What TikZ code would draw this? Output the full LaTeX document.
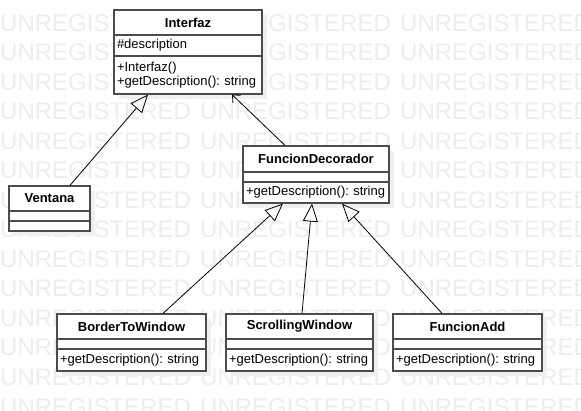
\documentclass[tikz,border=0pt]{standalone}
\usepackage{fontspec}
\setmainfont{Liberation Sans}
\usetikzlibrary{arrows.meta,shadows}

\tikzset{
	part/.style={rectangle, draw=black!70, line width=1.2pt, fill=white, inner ysep=0pt,
		drop shadow={shadow xshift=5pt, shadow yshift=-5pt, fill=black!6, opacity=1},
		font=\fontsize{13}{14}\selectfont\frenchspacing},
	classname/.style={part, font=\fontsize{13}{14}\selectfont\bfseries},
	members/.style={part, align=left, inner xsep=3pt},
	wm/.style={text=black!7, font=\fontsize{24}{24}\selectfont, anchor=base west, inner sep=0pt},
	gen/.style={-{Triangle[open, length=18pt, width=15pt]}, line width=0.8pt},
	assoc/.style={-{Straight Barb[length=6pt, width=11pt]}, line width=0.8pt}
}

\begin{document}
\begin{tikzpicture}[x=1pt, y=-1pt]
	\useasboundingbox (0,0) rectangle (581,411);
	% watermark
	\foreach \row in {0,...,13}{
		\foreach \col in {0,1,2}{
			\node[wm](wm\row\col) at (200*\col, 31.5+29.5*\row){UNREGISTERED};
		}
	}
	% Interfaz
	\node[classname, minimum width=148pt, minimum height=25pt](iName) at (188,22.5){Interfaz};
	\node[members, text width=142pt, minimum height=21pt](iAttr) at (188,45.5){\#description};
	\node[members, text width=142pt, minimum height=38pt](iMeth) at (188,75){+Interfaz()\\+getDescription(): string};
	% Ventana
	\node[classname, minimum width=81pt, minimum height=25pt](vName) at (49.5,198.5){Ventana};
	\node[members, text width=75pt, minimum height=10pt](vAttr) at (49.5,216){};
	\node[members, text width=75pt, minimum height=10pt](vMeth) at (49.5,226){};
	% FuncionDecorador
	\node[classname, minimum width=146pt, minimum height=26pt](dName) at (316,159){FuncionDecorador};
	\node[members, text width=140pt, minimum height=10pt](dAttr) at (316,177){};
	\node[members, text width=140pt, minimum height=21pt](dMeth) at (316,192.5){+getDescription(): string};
	% BorderToWindow
	\node[classname, minimum width=149pt, minimum height=25pt](bName) at (131.5,326.5){BorderToWindow};
	\node[members, text width=143pt, minimum height=10pt](bAttr) at (131.5,344){};
	\node[members, text width=143pt, minimum height=22pt](bMeth) at (131.5,360){+getDescription(): string};
	% ScrollingWindow
	\node[classname, minimum width=147pt, minimum height=25pt](sName) at (299.5,326.5){ScrollingWindow};
	\node[members, text width=141pt, minimum height=10pt](sAttr) at (299.5,344){};
	\node[members, text width=141pt, minimum height=22pt](sMeth) at (299.5,360){+getDescription(): string};
	% FuncionAdd
	\node[classname, minimum width=149pt, minimum height=25pt](aName) at (467.5,326.5){FuncionAdd};
	\node[members, text width=143pt, minimum height=10pt](aAttr) at (467.5,344){};
	\node[members, text width=143pt, minimum height=22pt](aMeth) at (467.5,360){+getDescription(): string};
	% relations
	\draw[gen]([xshift=20.5pt]vName.north) -- ([xshift=-40pt]iMeth.south);
	\draw[assoc]([xshift=-31pt]dName.north) -- ([xshift=44pt]iMeth.south);
	\draw[gen]([xshift=31.5pt]bName.north) -- ([xshift=-33pt]dMeth.south);
	\draw[gen]([xshift=2.5pt]sName.north) -- ([xshift=-4pt]dMeth.south);
	\draw[gen]([xshift=-25.5pt]aName.north) -- ([xshift=26pt]dMeth.south);
\end{tikzpicture}
\end{document}
